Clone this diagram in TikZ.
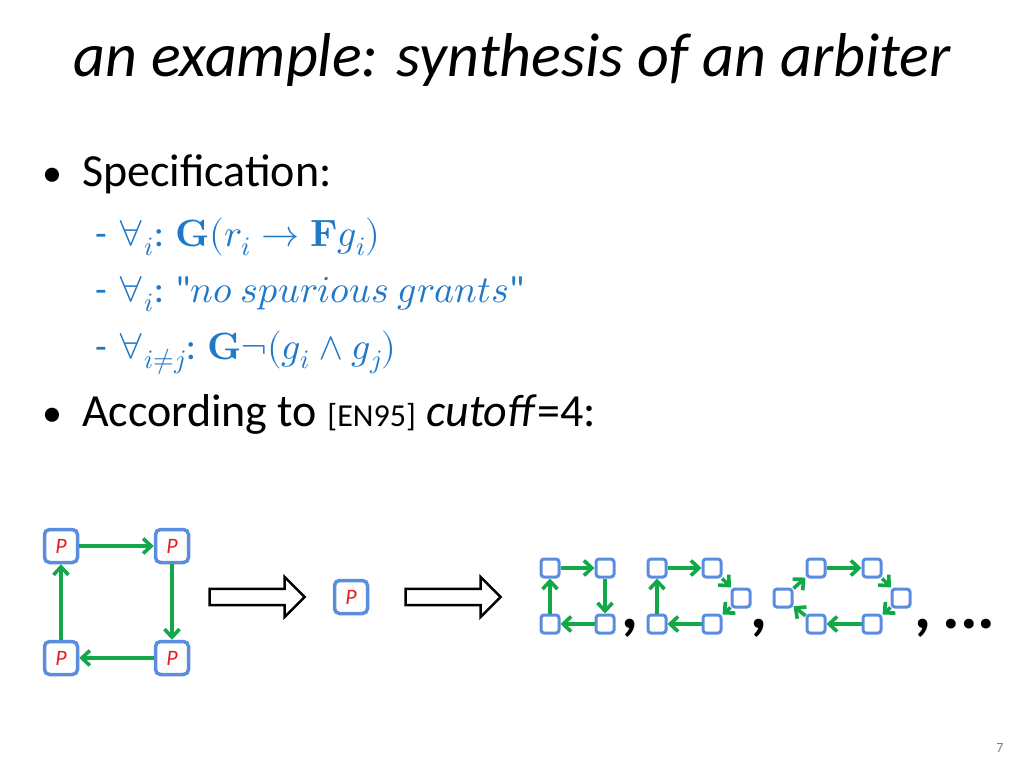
\documentclass[tikz,border=0pt]{standalone}
\usepackage{fontspec}
\usepackage{unicode-math}
\setmainfont{Carlito}
\setmathfont{Latin Modern Math}
\usepackage{tikz}
\usetikzlibrary{arrows.meta,positioning,shapes.arrows}
\definecolor{boxblue}{HTML}{5B8DDF}
\definecolor{edgegreen}{HTML}{12A84A}
\definecolor{mathblue}{HTML}{1F78C8}
\definecolor{pred}{HTML}{E41E1E}
\tikzset{
  proc/.style={draw=boxblue, line width=3.5pt, rounded corners=5pt, fill=white,
    minimum size=33pt, inner sep=0pt, font=\fontsize{22}{22}\selectfont\itshape\color{pred}},
  cell/.style={draw=boxblue, line width=3pt, rounded corners=3pt, fill=white,
    minimum size=18pt, inner sep=0pt},
  tok/.style={draw=edgegreen, line width=3.6pt, -{Straight Barb[length=8pt,width=15pt]}, shorten >=0pt},
  fat/.style={single arrow, draw=black, line width=2.5pt, minimum height=95pt,
    minimum width=40pt, single arrow head extend=9pt, inner sep=5pt},
  item/.style={anchor=base west, inner sep=0pt, font=\fontsize{46}{46}\selectfont},
  sub/.style={anchor=base west, inner sep=0pt, font=\fontsize{38}{38}\selectfont\color{mathblue}},
  sep/.style={anchor=base, inner sep=0pt, font=\fontsize{66}{66}\selectfont\bfseries}
}
\begin{document}
\begin{tikzpicture}[x=1pt,y=-1pt]
  \useasboundingbox[fill=white] (0,0) rectangle (1024,768);
  % title
  \node[anchor=base, font=\fontsize{62}{62}\selectfont\itshape] (title) at (512,77) {an example: synthesis of an arbiter};
  % bullets
  \node[item] (b1) at (42,186) {{\fontsize{40}{40}\selectfont\textbullet}\hspace{20pt}Specification:};
  \node[sub] (s1) at (95,246) {-\hspace{12pt}$\forall_i$: $\symbf{G}(r_i\rightarrow\symbf{F}g_i)$};
  \node[sub] (s2) at (95,302) {-\hspace{12pt}$\forall_i$: \textquotedbl$no\ spurious\ grants$\textquotedbl};
  \node[sub] (s3) at (95,359) {-\hspace{12pt}$\forall_{i\neq j}$: $\symbf{G}\neg(g_i\wedge g_j)$};
  \node[item] (b2) at (42,426) {{\fontsize{40}{40}\selectfont\textbullet}\hspace{20pt}According to {\fontsize{32}{32}\selectfont[EN95]} \textit{cutoff}=4:};
  % four processes
  \node[proc] (p1) at (61,546) {P};
  \node[proc] (p2) at (172,546) {P};
  \node[proc] (p3) at (172,658) {P};
  \node[proc] (p4) at (61,658) {P};
  \draw[tok] (p1) -- (p2);
  \draw[tok] (p2) -- (p3);
  \draw[tok] (p3) -- (p4);
  \draw[tok] (p4) -- (p1);
  % reduction arrows
  \node[fat] (a1) at (253,597) {};
  \node[proc] (p0) at (351,597) {P};
  \node[fat] (a2) at (449,597) {};
  % ring of 4
  \node[cell] (r1) at (550,568) {};
  \node[cell] (r2) at (605,568) {};
  \node[cell] (r3) at (605,624) {};
  \node[cell] (r4) at (550,624) {};
  \draw[tok] (r1) -- (r2);
  \draw[tok] (r2) -- (r3);
  \draw[tok] (r3) -- (r4);
  \draw[tok] (r4) -- (r1);
  \node[sep] (c1) at (630,628) {,};
  % ring of 5
  \node[cell] (q1) at (657,568) {};
  \node[cell] (q2) at (712,568) {};
  \node[cell] (q3) at (741,598) {};
  \node[cell] (q4) at (712,624) {};
  \node[cell] (q5) at (657,624) {};
  \draw[tok] (q1) -- (q2);
  \draw[tok] (q2) -- (q3);
  \draw[tok] (q3) -- (q4);
  \draw[tok] (q4) -- (q5);
  \draw[tok] (q5) -- (q1);
  \node[sep] (c2) at (759,628) {,};
  % ring of 6
  \node[cell] (t1) at (816,568) {};
  \node[cell] (t2) at (872,568) {};
  \node[cell] (t3) at (901,598) {};
  \node[cell] (t4) at (872,624) {};
  \node[cell] (t5) at (816,624) {};
  \node[cell] (t6) at (783,598) {};
  \draw[tok] (t1) -- (t2);
  \draw[tok] (t2) -- (t3);
  \draw[tok] (t3) -- (t4);
  \draw[tok] (t4) -- (t5);
  \draw[tok] (t5) -- (t6);
  \draw[tok] (t6) -- (t1);
  \node[sep] (c3) at (955,628) {,\,...};
  % page number
  \node[font=\fontsize{14}{14}\selectfont, text=gray] (pg) at (1000,748) {7};
\end{tikzpicture}
\end{document}
